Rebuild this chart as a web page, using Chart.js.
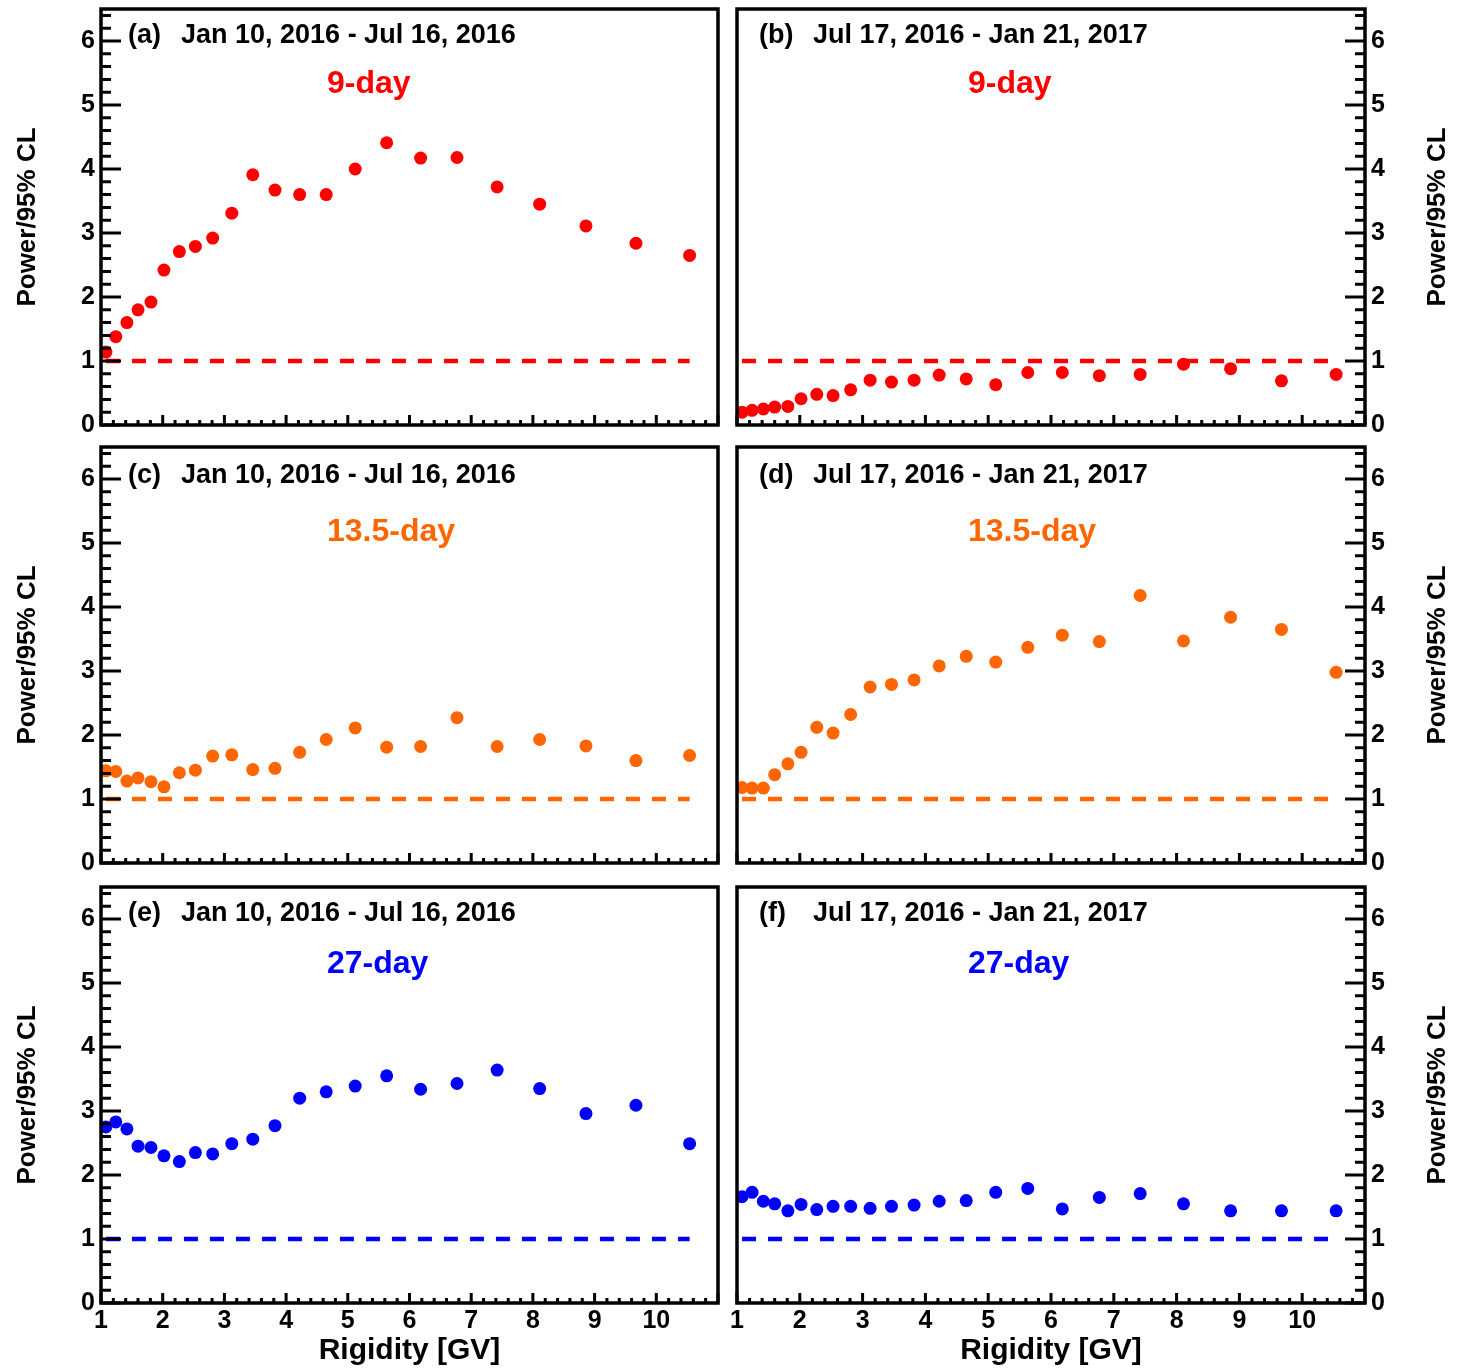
<!DOCTYPE html>
<html>
<head>
<meta charset="utf-8">
<script src="https://cdn.jsdelivr.net/npm/chart.js@4.4.1/dist/chart.umd.min.js"></script>
<style>
  html, body { margin: 0; padding: 0; background: #ffffff; }
  #fig { position: relative; width: 1475px; height: 1369px; background: #ffffff; overflow: hidden; }
  #fig canvas { position: absolute; }
</style>
</head>
<body>
<div id="fig">
  <canvas id="panelA" width="728" height="436" style="left:0px;top:0px"></canvas>
  <canvas id="panelB" width="747" height="436" style="left:728px;top:0px"></canvas>
  <canvas id="panelC" width="728" height="438" style="left:0px;top:436px"></canvas>
  <canvas id="panelD" width="747" height="438" style="left:728px;top:436px"></canvas>
  <canvas id="panelE" width="728" height="495" style="left:0px;top:874px"></canvas>
  <canvas id="panelF" width="747" height="495" style="left:728px;top:874px"></canvas>
</div>
<script>
// Rigidity bin centres [GV]
const rigidity = [1.08, 1.24, 1.42, 1.60, 1.81, 2.02, 2.27, 2.53, 2.81, 3.12, 3.46, 3.82,
                  4.22, 4.65, 5.12, 5.63, 6.18, 6.77, 7.42, 8.11, 8.86, 9.67, 10.54];

// Periodogram power normalised to the 95% confidence level
const power9First    = [1.14, 1.38, 1.60, 1.80, 1.92, 2.42, 2.71, 2.79, 2.92, 3.31, 3.91, 3.67,
                        3.60, 3.60, 4.00, 4.41, 4.17, 4.18, 3.72, 3.45, 3.11, 2.84, 2.65];
const power9Second   = [0.20, 0.23, 0.25, 0.28, 0.29, 0.41, 0.48, 0.46, 0.55, 0.70, 0.67, 0.70,
                        0.78, 0.72, 0.63, 0.82, 0.82, 0.77, 0.79, 0.95, 0.88, 0.69, 0.79];
const power135First  = [1.44, 1.43, 1.28, 1.33, 1.27, 1.19, 1.41, 1.45, 1.67, 1.69, 1.46, 1.48,
                        1.73, 1.93, 2.11, 1.81, 1.82, 2.27, 1.82, 1.93, 1.83, 1.60, 1.68];
const power135Second = [1.18, 1.17, 1.17, 1.38, 1.55, 1.73, 2.12, 2.03, 2.32, 2.75, 2.79, 2.86,
                        3.08, 3.23, 3.14, 3.37, 3.56, 3.46, 4.18, 3.47, 3.84, 3.65, 2.98];
const power27First   = [2.75, 2.83, 2.72, 2.45, 2.43, 2.30, 2.21, 2.35, 2.33, 2.49, 2.56, 2.77,
                        3.20, 3.30, 3.39, 3.55, 3.34, 3.43, 3.64, 3.35, 2.96, 3.09, 2.49];
const power27Second  = [1.66, 1.73, 1.59, 1.55, 1.44, 1.54, 1.46, 1.51, 1.51, 1.48, 1.51, 1.53,
                        1.59, 1.60, 1.73, 1.79, 1.47, 1.65, 1.71, 1.55, 1.44, 1.44, 1.44];

// Significance threshold (power / 95% CL = 1)
const thresholdLevel = 1;

// Axis labels
const xTickLabels = [1, 2, 3, 4, 5, 6, 7, 8, 9, 10];
const yTickLabels = [0, 1, 2, 3, 4, 5, 6];
const xTitle = 'Rigidity [GV]';
const yTitle = 'Power/95% CL';

// Panel annotations
const periods = ['Jan 10, 2016 - Jul 16, 2016', 'Jul 17, 2016 - Jan 21, 2017'];
const panelTags = ['(a)', '(b)', '(c)', '(d)', '(e)', '(f)'];
const harmonicNames = ['9-day', '13.5-day', '27-day'];
const harmonicColors = ['#ff0000', '#ff6600', '#0000ff'];

const FONT = "'Liberation Sans', Arial, Helvetica, sans-serif";

// Frame and inward-pointing ticks drawn on each panel
const framePlugin = {
  id: 'frame',
  afterDatasetsDraw(chart, args, opts) {
    const { ctx, chartArea: a, scales: { x, y } } = chart;
    ctx.save();
    ctx.strokeStyle = '#000000';
    ctx.lineWidth = 3;
    ctx.lineCap = 'butt';
    ctx.beginPath();
    // y ticks every 0.2, major at integers
    for (let k = 0; k <= 32; k++) {
      const py = y.getPixelForValue(k / 5);
      const len = (k % 5 === 0) ? 20 : 10;
      if (opts.side === 'right') {
        ctx.moveTo(a.right, py); ctx.lineTo(a.right - len, py);
      } else {
        ctx.moveTo(a.left, py); ctx.lineTo(a.left + len, py);
      }
    }
    // x ticks every 0.2, major at integers
    for (let k = 5; k <= 55; k++) {
      const px = x.getPixelForValue(k / 5);
      const len = (k % 5 === 0) ? 10 : 5;
      ctx.moveTo(px, a.bottom); ctx.lineTo(px, a.bottom - len);
    }
    ctx.stroke();
    ctx.lineWidth = 3.5;
    ctx.strokeRect(a.left, a.top, a.right - a.left, a.bottom - a.top);
    ctx.restore();
  }
};

// Panel header, harmonic name and right-hand axis title
const labelPlugin = {
  id: 'panelLabels',
  afterDraw(chart, args, opts) {
    const { ctx, chartArea: a } = chart;
    ctx.save();
    ctx.textBaseline = 'alphabetic';
    ctx.textAlign = 'left';
    ctx.fillStyle = '#000000';
    ctx.font = 'bold 27px ' + FONT;
    ctx.fillText(opts.tag, a.left + opts.tagDx, a.top + opts.headDy);
    ctx.fillText(opts.period, a.left + opts.periodDx, a.top + opts.headDy);
    ctx.fillStyle = opts.color;
    ctx.font = 'bold 32px ' + FONT;
    ctx.fillText(opts.harmonic, a.left + opts.harmonicDx, a.top + opts.harmonicDy);
    if (opts.side === 'right') {
      ctx.fillStyle = '#000000';
      ctx.font = 'bold 26px ' + FONT;
      ctx.textAlign = 'center';
      ctx.textBaseline = 'middle';
      ctx.translate(chart.width - 37, (a.top + a.bottom) / 2);
      ctx.rotate(-Math.PI / 2);
      ctx.fillText(yTitle, 0, 0);
    }
    ctx.restore();
  }
};

function makePanel(id, cfg) {
  const color = harmonicColors[cfg.row];
  const side = cfg.col === 0 ? 'left' : 'right';
  const bottomRow = cfg.row === 2;
  const points = rigidity.map((r, i) => ({ x: r, y: cfg.values[i] }));
  const threshold = [
    { x: rigidity[0], y: thresholdLevel },
    { x: rigidity[rigidity.length - 1], y: thresholdLevel }
  ];
  const padTop = [9, 11, 13][cfg.row];
  const xAxisHeight = bottomRow ? 66 : 11;

  new Chart(document.getElementById(id), {
    type: 'scatter',
    data: {
      datasets: [
        {
          data: points,
          pointRadius: 6.5,
          pointHoverRadius: 6.5,
          pointBackgroundColor: color,
          pointBorderWidth: 0,
          showLine: false
        },
        {
          data: threshold,
          showLine: true,
          borderColor: color,
          borderWidth: 4.5,
          borderDash: [14, 12],
          pointRadius: 0,
          fill: false
        }
      ]
    },
    options: {
      responsive: false,
      animation: false,
      devicePixelRatio: 1,
      events: [],
      layout: {
        padding: side === 'left'
          ? { top: padTop, bottom: 0, left: 0, right: 10 }
          : { top: padTop, bottom: 0, left: 9, right: 0 }
      },
      plugins: {
        legend: { display: false },
        tooltip: { enabled: false },
        frame: { side },
        panelLabels: {
          side,
          tag: panelTags[cfg.row * 2 + cfg.col],
          period: periods[cfg.col],
          harmonic: harmonicNames[cfg.row],
          color,
          tagDx: side === 'left' ? 27 : 22,
          periodDx: side === 'left' ? 80 : 76,
          headDy: [34, 36, 34][cfg.row],
          harmonicDx: side === 'left' ? 226 : 231,
          harmonicDy: [84, 94, 86][cfg.row]
        }
      },
      scales: {
        x: {
          type: 'linear',
          position: 'bottom',
          min: 1,
          max: 11,
          grid: { display: false, drawTicks: false },
          border: { display: false },
          ticks: {
            display: bottomRow,
            stepSize: 1,
            autoSkip: false,
            maxRotation: 0,
            padding: 3,
            color: '#000000',
            font: { family: FONT, size: 25, weight: 'bold' },
            callback: v => xTickLabels.includes(v) ? String(v) : ''
          },
          title: {
            display: bottomRow,
            text: xTitle,
            color: '#000000',
            font: { family: FONT, size: 30, weight: 'bold' },
            padding: { top: 0, bottom: 0 }
          },
          afterFit: s => {
            s.height = xAxisHeight;
            s.paddingLeft = 0; s.paddingRight = 0;
            s.paddingTop = 0; s.paddingBottom = 0;
          }
        },
        y: {
          type: 'linear',
          position: side,
          min: 0,
          max: 6.5,
          grid: { display: false, drawTicks: false },
          border: { display: false },
          ticks: {
            stepSize: 1,
            includeBounds: false,
            padding: 6,
            color: '#000000',
            font: { family: FONT, size: 25, weight: 'bold' },
            callback: v => yTickLabels.includes(v) ? String(v) : ''
          },
          title: {
            display: side === 'left',
            text: yTitle,
            color: '#000000',
            font: { family: FONT, size: 26, weight: 'bold' },
            padding: { top: 12, bottom: 0 }
          },
          afterFit: s => {
            s.width = side === 'left' ? 101 : 110;
            s.paddingLeft = 0; s.paddingRight = 0;
            s.paddingTop = 0; s.paddingBottom = 0;
          }
        }
      }
    },
    plugins: [framePlugin, labelPlugin]
  });
}

makePanel('panelA', { row: 0, col: 0, values: power9First });
makePanel('panelB', { row: 0, col: 1, values: power9Second });
makePanel('panelC', { row: 1, col: 0, values: power135First });
makePanel('panelD', { row: 1, col: 1, values: power135Second });
makePanel('panelE', { row: 2, col: 0, values: power27First });
makePanel('panelF', { row: 2, col: 1, values: power27Second });
</script>
</body>
</html>
